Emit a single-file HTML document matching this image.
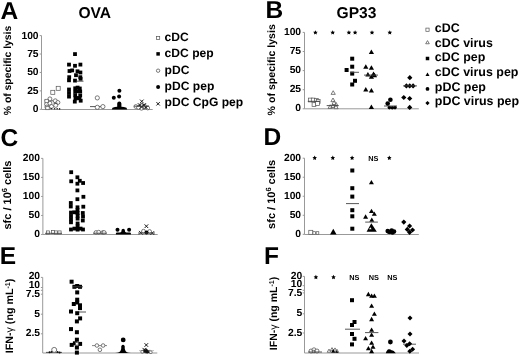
<!DOCTYPE html>
<html><head><meta charset="utf-8"><style>
html,body{margin:0;padding:0;background:#fff;}
svg{display:block;font-family:"Liberation Sans", sans-serif;will-change:transform;}
text{text-rendering:geometricPrecision;}
</style></head><body>
<svg width="520" height="356" viewBox="0 0 520 356">
<rect width="520" height="356" fill="#fff"/>
<text x="0.5" y="18.8" font-size="24.5" text-anchor="start" font-weight="bold" >A</text>
<text x="265.5" y="18.3" font-size="24.5" text-anchor="start" font-weight="bold" >B</text>
<text x="0.5" y="145.5" font-size="24.5" text-anchor="start" font-weight="bold" >C</text>
<text x="263.5" y="144.5" font-size="24.5" text-anchor="start" font-weight="bold" >D</text>
<text x="-0.3" y="264.2" font-size="24.5" text-anchor="start" font-weight="bold" >E</text>
<text x="264.0" y="264.3" font-size="24.5" text-anchor="start" font-weight="bold" >F</text>
<text x="94.8" y="18.1" font-size="15.6" text-anchor="middle" font-weight="bold" >OVA</text>
<text x="356.5" y="18.1" font-size="15.6" text-anchor="middle" font-weight="bold" >GP33</text>
<text transform="translate(11.3,70.5) rotate(-90)" font-size="10.4" text-anchor="middle" font-weight="bold">% of specific lysis</text>
<text transform="translate(274.6,69.8) rotate(-90)" font-size="10.6" text-anchor="middle" font-weight="bold">% of specific lysis</text>
<text transform="translate(11.3,195.0) rotate(-90)" font-size="11" text-anchor="middle" font-weight="bold">sfc / 10<tspan dy="-4" font-size="7.5">6</tspan><tspan dy="4"> cells</tspan></text>
<text transform="translate(274.8,194.4) rotate(-90)" font-size="11" text-anchor="middle" font-weight="bold">sfc / 10<tspan dy="-4" font-size="7.5">6</tspan><tspan dy="4"> cells</tspan></text>
<text transform="translate(13.0,316.0) rotate(-90)" font-size="10.7" text-anchor="middle" font-weight="bold">IFN-<tspan font-weight="normal">&#947;</tspan> (ng mL<tspan dy="-3.5" font-size="7">-1</tspan><tspan dy="3.5">)</tspan></text>
<text transform="translate(277.0,313.5) rotate(-90)" font-size="10.5" text-anchor="middle" font-weight="bold">IFN-<tspan font-weight="normal">&#947;</tspan> (ng mL<tspan dy="-3.5" font-size="7">-1</tspan><tspan dy="3.5">)</tspan></text>
<line x1="41.5" y1="35.6" x2="41.5" y2="109.5" stroke="#999" stroke-width="1"/>
<line x1="41.5" y1="109.5" x2="152.7" y2="109.5" stroke="#999" stroke-width="1"/>
<line x1="39.7" y1="35.6" x2="41.5" y2="35.6" stroke="#999" stroke-width="1"/>
<text x="38.6" y="38.6" font-size="10.3" text-anchor="end" font-weight="bold" >100</text>
<line x1="39.7" y1="54.03" x2="41.5" y2="54.03" stroke="#999" stroke-width="1"/>
<text x="38.6" y="57.03" font-size="10.3" text-anchor="end" font-weight="bold" >75</text>
<line x1="39.7" y1="72.46000000000001" x2="41.5" y2="72.46000000000001" stroke="#999" stroke-width="1"/>
<text x="38.6" y="75.46000000000001" font-size="10.3" text-anchor="end" font-weight="bold" >50</text>
<line x1="39.7" y1="90.89" x2="41.5" y2="90.89" stroke="#999" stroke-width="1"/>
<text x="38.6" y="93.89" font-size="10.3" text-anchor="end" font-weight="bold" >25</text>
<line x1="39.7" y1="109.32" x2="41.5" y2="109.32" stroke="#999" stroke-width="1"/>
<text x="38.6" y="112.32" font-size="10.3" text-anchor="end" font-weight="bold" >0</text>
<line x1="304.5" y1="32.4" x2="304.5" y2="108.8" stroke="#999" stroke-width="1"/>
<line x1="304.5" y1="108.8" x2="418.8" y2="108.8" stroke="#999" stroke-width="1"/>
<line x1="302.7" y1="32.4" x2="304.5" y2="32.4" stroke="#999" stroke-width="1"/>
<text x="301.1" y="34.9" font-size="10.3" text-anchor="end" font-weight="bold" >100</text>
<line x1="302.7" y1="51.5" x2="304.5" y2="51.5" stroke="#999" stroke-width="1"/>
<text x="301.1" y="54.0" font-size="10.3" text-anchor="end" font-weight="bold" >75</text>
<line x1="302.7" y1="70.6" x2="304.5" y2="70.6" stroke="#999" stroke-width="1"/>
<text x="301.1" y="73.1" font-size="10.3" text-anchor="end" font-weight="bold" >50</text>
<line x1="302.7" y1="89.7" x2="304.5" y2="89.7" stroke="#999" stroke-width="1"/>
<text x="301.1" y="92.2" font-size="10.3" text-anchor="end" font-weight="bold" >25</text>
<line x1="302.7" y1="108.80000000000001" x2="304.5" y2="108.80000000000001" stroke="#999" stroke-width="1"/>
<text x="301.1" y="111.30000000000001" font-size="10.3" text-anchor="end" font-weight="bold" >0</text>
<line x1="42.9" y1="158.4" x2="42.9" y2="234.5" stroke="#999" stroke-width="1"/>
<line x1="42.9" y1="234.5" x2="157.7" y2="234.5" stroke="#999" stroke-width="1"/>
<line x1="41.1" y1="158.4" x2="42.9" y2="158.4" stroke="#999" stroke-width="1"/>
<text x="40.0" y="161.20000000000002" font-size="10.3" text-anchor="end" font-weight="bold" >200</text>
<line x1="41.1" y1="177.42000000000002" x2="42.9" y2="177.42000000000002" stroke="#999" stroke-width="1"/>
<text x="40.0" y="180.22000000000003" font-size="10.3" text-anchor="end" font-weight="bold" >150</text>
<line x1="41.1" y1="196.44" x2="42.9" y2="196.44" stroke="#999" stroke-width="1"/>
<text x="40.0" y="199.24" font-size="10.3" text-anchor="end" font-weight="bold" >100</text>
<line x1="41.1" y1="215.46" x2="42.9" y2="215.46" stroke="#999" stroke-width="1"/>
<text x="40.0" y="218.26000000000002" font-size="10.3" text-anchor="end" font-weight="bold" >50</text>
<line x1="41.1" y1="234.48000000000002" x2="42.9" y2="234.48000000000002" stroke="#999" stroke-width="1"/>
<text x="40.0" y="237.28000000000003" font-size="10.3" text-anchor="end" font-weight="bold" >0</text>
<line x1="304.5" y1="158.2" x2="304.5" y2="234.5" stroke="#999" stroke-width="1"/>
<line x1="304.5" y1="234.5" x2="418.8" y2="234.5" stroke="#999" stroke-width="1"/>
<line x1="302.7" y1="158.2" x2="304.5" y2="158.2" stroke="#999" stroke-width="1"/>
<text x="301.1" y="160.7" font-size="10.3" text-anchor="end" font-weight="bold" >200</text>
<line x1="302.7" y1="177.23" x2="304.5" y2="177.23" stroke="#999" stroke-width="1"/>
<text x="301.1" y="179.73" font-size="10.3" text-anchor="end" font-weight="bold" >150</text>
<line x1="302.7" y1="196.26" x2="304.5" y2="196.26" stroke="#999" stroke-width="1"/>
<text x="301.1" y="198.76" font-size="10.3" text-anchor="end" font-weight="bold" >100</text>
<line x1="302.7" y1="215.29" x2="304.5" y2="215.29" stroke="#999" stroke-width="1"/>
<text x="301.1" y="217.79" font-size="10.3" text-anchor="end" font-weight="bold" >50</text>
<line x1="302.7" y1="234.32" x2="304.5" y2="234.32" stroke="#999" stroke-width="1"/>
<text x="301.1" y="236.82" font-size="10.3" text-anchor="end" font-weight="bold" >0</text>
<line x1="42.7" y1="277.4" x2="42.7" y2="353.0" stroke="#999" stroke-width="1"/>
<line x1="42.7" y1="353.0" x2="157.3" y2="353.0" stroke="#999" stroke-width="1"/>
<line x1="40.900000000000006" y1="277.4" x2="42.7" y2="277.4" stroke="#999" stroke-width="1"/>
<text x="40.1" y="278.8" font-size="10.3" text-anchor="end" font-weight="bold" >20</text>
<line x1="40.900000000000006" y1="287.5" x2="42.7" y2="287.5" stroke="#999" stroke-width="1"/>
<text x="40.1" y="287.8" font-size="10.3" text-anchor="end" font-weight="bold" >10</text>
<line x1="40.900000000000006" y1="290.3" x2="42.7" y2="290.3" stroke="#999" stroke-width="1"/>
<line x1="40.900000000000006" y1="294.2" x2="42.7" y2="294.2" stroke="#999" stroke-width="1"/>
<text x="40.1" y="296.7" font-size="10.3" text-anchor="end" font-weight="bold" >7.5</text>
<line x1="40.900000000000006" y1="314.2" x2="42.7" y2="314.2" stroke="#999" stroke-width="1"/>
<text x="40.1" y="316.7" font-size="10.3" text-anchor="end" font-weight="bold" >5</text>
<line x1="40.900000000000006" y1="333.8" x2="42.7" y2="333.8" stroke="#999" stroke-width="1"/>
<text x="40.1" y="336.2" font-size="10.3" text-anchor="end" font-weight="bold" >2.5</text>
<line x1="304.5" y1="276.4" x2="304.5" y2="353.0" stroke="#999" stroke-width="1"/>
<line x1="304.5" y1="353.0" x2="419.0" y2="353.0" stroke="#999" stroke-width="1"/>
<line x1="302.7" y1="276.4" x2="304.5" y2="276.4" stroke="#999" stroke-width="1"/>
<text x="302.3" y="278.7" font-size="10.3" text-anchor="end" font-weight="bold" >20</text>
<line x1="302.7" y1="285.7" x2="304.5" y2="285.7" stroke="#999" stroke-width="1"/>
<text x="302.3" y="286.7" font-size="10.3" text-anchor="end" font-weight="bold" >10</text>
<line x1="302.7" y1="290.3" x2="304.5" y2="290.3" stroke="#999" stroke-width="1"/>
<line x1="302.7" y1="292.9" x2="304.5" y2="292.9" stroke="#999" stroke-width="1"/>
<text x="302.3" y="295.9" font-size="10.3" text-anchor="end" font-weight="bold" >7.5</text>
<line x1="302.7" y1="313.8" x2="304.5" y2="313.8" stroke="#999" stroke-width="1"/>
<text x="302.3" y="316.2" font-size="10.3" text-anchor="end" font-weight="bold" >5</text>
<line x1="302.7" y1="333.0" x2="304.5" y2="333.0" stroke="#999" stroke-width="1"/>
<text x="302.3" y="335.5" font-size="10.3" text-anchor="end" font-weight="bold" >2.5</text>
<rect x="156.50" y="36.40" width="3.2" height="3.2" fill="#fff" stroke="#555" stroke-width="0.7"/>
<text x="164.6" y="40.8" font-size="12.1" text-anchor="start" font-weight="bold" >cDC</text>
<rect x="156.35" y="52.15" width="3.5" height="3.5" fill="#000"/>
<text x="164.6" y="57.2" font-size="12.1" text-anchor="start" font-weight="bold" >cDC pep</text>
<circle cx="158.1" cy="70.7" r="1.7" fill="#fff" stroke="#444" stroke-width="0.7"/>
<text x="164.6" y="73.5" font-size="12.1" text-anchor="start" font-weight="bold" >pDC</text>
<circle cx="158.1" cy="87.1" r="2.0" fill="#000"/>
<text x="164.6" y="89.8" font-size="12.1" text-anchor="start" font-weight="bold" >pDC pep</text>
<path d="M156.4 102.1L159.79999999999998 105.5M159.79999999999998 102.1L156.4 105.5" stroke="#000" stroke-width="0.9"/>
<text x="164.6" y="106.2" font-size="12.1" text-anchor="start" font-weight="bold" >pDC CpG pep</text>
<rect x="425.90" y="28.10" width="3.2" height="3.2" fill="#fff" stroke="#555" stroke-width="0.7"/>
<text x="434.8" y="32.4" font-size="12.45" text-anchor="start" font-weight="bold" >cDC</text>
<path d="M427.50 40.62L429.30 43.75L425.70 43.75Z" fill="#fff" stroke="#444" stroke-width="0.7"/>
<text x="434.8" y="46.9" font-size="12.45" text-anchor="start" font-weight="bold" >cDC virus</text>
<rect x="425.75" y="56.75" width="3.5" height="3.5" fill="#000"/>
<text x="434.8" y="61.4" font-size="12.45" text-anchor="start" font-weight="bold" >cDC pep</text>
<path d="M427.50 72.61L429.50 76.09L425.50 76.09Z" fill="#000"/>
<text x="434.8" y="76.0" font-size="12.45" text-anchor="start" font-weight="bold" >cDC virus pep</text>
<circle cx="427.5" cy="88.9" r="1.9" fill="#000"/>
<text x="434.8" y="90.6" font-size="12.45" text-anchor="start" font-weight="bold" >pDC pep</text>
<path d="M427.5 101.0L429.6 103.1L427.5 105.19999999999999L425.4 103.1Z" fill="#000"/>
<text x="434.8" y="105.2" font-size="12.45" text-anchor="start" font-weight="bold" >pDC virus pep</text>
<polygon points="315.40,30.20 316.11,31.63 317.68,31.86 316.54,32.97 316.81,34.54 315.40,33.80 313.99,34.54 314.26,32.97 313.12,31.86 314.69,31.63" fill="#000"/>
<polygon points="332.70,30.20 333.41,31.63 334.98,31.86 333.84,32.97 334.11,34.54 332.70,33.80 331.29,34.54 331.56,32.97 330.42,31.86 331.99,31.63" fill="#000"/>
<polygon points="348.90,30.20 349.61,31.63 351.18,31.86 350.04,32.97 350.31,34.54 348.90,33.80 347.49,34.54 347.76,32.97 346.62,31.86 348.19,31.63" fill="#000"/>
<polygon points="355.10,30.20 355.81,31.63 357.38,31.86 356.24,32.97 356.51,34.54 355.10,33.80 353.69,34.54 353.96,32.97 352.82,31.86 354.39,31.63" fill="#000"/>
<polygon points="372.00,30.20 372.71,31.63 374.28,31.86 373.14,32.97 373.41,34.54 372.00,33.80 370.59,34.54 370.86,32.97 369.72,31.86 371.29,31.63" fill="#000"/>
<polygon points="389.80,30.20 390.51,31.63 392.08,31.86 390.94,32.97 391.21,34.54 389.80,33.80 388.39,34.54 388.66,32.97 387.52,31.86 389.09,31.63" fill="#000"/>
<polygon points="314.70,155.60 315.41,157.03 316.98,157.26 315.84,158.37 316.11,159.94 314.70,159.20 313.29,159.94 313.56,158.37 312.42,157.26 313.99,157.03" fill="#000"/>
<polygon points="332.80,155.60 333.51,157.03 335.08,157.26 333.94,158.37 334.21,159.94 332.80,159.20 331.39,159.94 331.66,158.37 330.52,157.26 332.09,157.03" fill="#000"/>
<polygon points="352.10,155.60 352.81,157.03 354.38,157.26 353.24,158.37 353.51,159.94 352.10,159.20 350.69,159.94 350.96,158.37 349.82,157.26 351.39,157.03" fill="#000"/>
<polygon points="389.30,155.60 390.01,157.03 391.58,157.26 390.44,158.37 390.71,159.94 389.30,159.20 387.89,159.94 388.16,158.37 387.02,157.26 388.59,157.03" fill="#000"/>
<text x="373.4" y="160.7" font-size="7.3" text-anchor="middle" font-weight="bold" >NS</text>
<polygon points="315.90,274.80 316.61,276.23 318.18,276.46 317.04,277.57 317.31,279.14 315.90,278.40 314.49,279.14 314.76,277.57 313.62,276.46 315.19,276.23" fill="#000"/>
<polygon points="333.50,274.80 334.21,276.23 335.78,276.46 334.64,277.57 334.91,279.14 333.50,278.40 332.09,279.14 332.36,277.57 331.22,276.46 332.79,276.23" fill="#000"/>
<text x="354.4" y="279.8" font-size="7.3" text-anchor="middle" font-weight="bold" >NS</text>
<text x="373.7" y="279.8" font-size="7.3" text-anchor="middle" font-weight="bold" >NS</text>
<text x="392.2" y="279.8" font-size="7.3" text-anchor="middle" font-weight="bold" >NS</text>
<line x1="44.5" y1="100.8" x2="53" y2="100.8" stroke="#444" stroke-width="0.9"/>
<rect x="56.20" y="86.30" width="4.0" height="4.0" fill="#fff" stroke="#555" stroke-width="0.7"/>
<rect x="50.80" y="90.30" width="4.0" height="4.0" fill="#fff" stroke="#555" stroke-width="0.7"/>
<circle cx="49.9" cy="98.9" r="2.0" fill="#fff" stroke="#444" stroke-width="0.7"/>
<circle cx="55.3" cy="100.8" r="2.0" fill="#fff" stroke="#444" stroke-width="0.7"/>
<circle cx="57.9" cy="102.5" r="2.0" fill="#fff" stroke="#444" stroke-width="0.7"/>
<circle cx="46.6" cy="104.3" r="2.0" fill="#fff" stroke="#444" stroke-width="0.7"/>
<circle cx="49.9" cy="103.2" r="2.0" fill="#fff" stroke="#444" stroke-width="0.7"/>
<circle cx="55.7" cy="105.4" r="2.0" fill="#fff" stroke="#444" stroke-width="0.7"/>
<circle cx="46.9" cy="107.0" r="2.0" fill="#fff" stroke="#444" stroke-width="0.7"/>
<circle cx="51.5" cy="106.5" r="2.0" fill="#fff" stroke="#444" stroke-width="0.7"/>
<rect x="44.90" y="99.30" width="3.4" height="3.4" fill="#fff" stroke="#555" stroke-width="0.7"/>
<rect x="45.80" y="106.30" width="3.4" height="3.4" fill="#fff" stroke="#555" stroke-width="0.7"/>
<line x1="53.5" y1="103.2" x2="57.5" y2="103.2" stroke="#444" stroke-width="0.9"/>
<circle cx="51.3" cy="108.6" r="0.8" fill="#222"/>
<circle cx="54.6" cy="108.8" r="0.8" fill="#222"/>
<circle cx="57.2" cy="108.8" r="0.8" fill="#222"/>
<circle cx="59.6" cy="108.9" r="0.8" fill="#222"/>
<rect x="73.10" y="52.20" width="3.8" height="3.8" fill="#000"/>
<rect x="67.10" y="62.70" width="3.8" height="3.8" fill="#000"/>
<rect x="73.10" y="63.90" width="3.8" height="3.8" fill="#000"/>
<rect x="78.50" y="62.70" width="3.8" height="3.8" fill="#000"/>
<rect x="67.60" y="69.10" width="3.8" height="3.8" fill="#000"/>
<rect x="70.30" y="68.50" width="3.8" height="3.8" fill="#000"/>
<rect x="75.60" y="69.40" width="3.8" height="3.8" fill="#000"/>
<rect x="78.50" y="70.60" width="3.8" height="3.8" fill="#000"/>
<rect x="74.10" y="73.30" width="3.8" height="3.8" fill="#000"/>
<rect x="78.40" y="75.30" width="3.8" height="3.8" fill="#000"/>
<rect x="67.30" y="75.30" width="3.8" height="3.8" fill="#000"/>
<rect x="67.10" y="78.40" width="3.8" height="3.8" fill="#000"/>
<rect x="73.10" y="78.70" width="3.8" height="3.8" fill="#000"/>
<rect x="78.70" y="76.90" width="3.8" height="3.8" fill="#000"/>
<rect x="67.10" y="87.60" width="3.8" height="3.8" fill="#000"/>
<rect x="67.10" y="91.10" width="3.8" height="3.8" fill="#000"/>
<rect x="67.10" y="94.70" width="3.8" height="3.8" fill="#000"/>
<rect x="73.30" y="86.40" width="3.8" height="3.8" fill="#000"/>
<rect x="77.90" y="86.60" width="3.8" height="3.8" fill="#000"/>
<rect x="73.30" y="89.90" width="3.8" height="3.8" fill="#000"/>
<rect x="78.30" y="89.60" width="3.8" height="3.8" fill="#000"/>
<rect x="73.30" y="93.40" width="3.8" height="3.8" fill="#000"/>
<rect x="78.30" y="93.60" width="3.8" height="3.8" fill="#000"/>
<rect x="73.60" y="96.60" width="3.8" height="3.8" fill="#000"/>
<rect x="77.60" y="96.40" width="3.8" height="3.8" fill="#000"/>
<rect x="72.90" y="99.70" width="3.8" height="3.8" fill="#000"/>
<rect x="78.80" y="98.80" width="3.8" height="3.8" fill="#000"/>
<rect x="75.70" y="85.70" width="3.8" height="3.8" fill="#000"/>
<rect x="75.70" y="89.30" width="3.8" height="3.8" fill="#000"/>
<rect x="75.90" y="96.10" width="3.8" height="3.8" fill="#000"/>
<line x1="76.3" y1="81.2" x2="83.5" y2="81.2" stroke="#444" stroke-width="0.9"/>
<line x1="90" y1="106.6" x2="104" y2="106.6" stroke="#444" stroke-width="0.9"/>
<circle cx="97.3" cy="97.9" r="2.1" fill="#fff" stroke="#444" stroke-width="0.7"/>
<circle cx="97.3" cy="107.3" r="2.1" fill="#fff" stroke="#444" stroke-width="0.7"/>
<circle cx="102.9" cy="106.6" r="2.1" fill="#fff" stroke="#444" stroke-width="0.7"/>
<circle cx="119.4" cy="90.7" r="2.0" fill="#000"/>
<circle cx="113.8" cy="97.7" r="2.0" fill="#000"/>
<circle cx="119.1" cy="96.6" r="2.0" fill="#000"/>
<path d="M111.8 109.6 L112.5 107.8 Q115 106.8 117.2 106.8 L117.2 103.5 Q117.3 101.6 119.3 101.6 Q121.3 101.6 121.4 103.5 L121.4 106.8 Q124 106.8 126.5 107.8 L127.2 109.6 Z" fill="#000"/>
<circle cx="135.8" cy="106.5" r="1.9" fill="#fff" stroke="#444" stroke-width="0.7"/>
<circle cx="141.5" cy="105.8" r="1.9" fill="#fff" stroke="#444" stroke-width="0.7"/>
<circle cx="141.5" cy="108.3" r="1.9" fill="#fff" stroke="#444" stroke-width="0.7"/>
<circle cx="144.6" cy="106.2" r="1.9" fill="#fff" stroke="#444" stroke-width="0.7"/>
<circle cx="147.7" cy="108" r="1.9" fill="#fff" stroke="#444" stroke-width="0.7"/>
<circle cx="138.5" cy="107.5" r="1.9" fill="#fff" stroke="#444" stroke-width="0.7"/>
<path d="M140.0 99.60000000000001L143.60000000000002 103.2M143.60000000000002 99.60000000000001L140.0 103.2" stroke="#000" stroke-width="0.9"/>
<path d="M137.79999999999998 103.2L141.4 106.8M141.4 103.2L137.79999999999998 106.8" stroke="#000" stroke-width="0.9"/>
<path d="M142.39999999999998 103.2L146.0 106.8M146.0 103.2L142.39999999999998 106.8" stroke="#000" stroke-width="0.9"/>
<path d="M139.7 105.2L143.3 108.8M143.3 105.2L139.7 108.8" stroke="#000" stroke-width="0.9"/>
<path d="M144.2 105.7L147.8 109.3M147.8 105.7L144.2 109.3" stroke="#000" stroke-width="0.9"/>
<line x1="134" y1="106.2" x2="149" y2="106.2" stroke="#444" stroke-width="0.9"/>
<rect x="308.60" y="98.10" width="3.8" height="3.8" fill="#fff" stroke="#555" stroke-width="0.7"/>
<rect x="311.30" y="98.10" width="3.8" height="3.8" fill="#fff" stroke="#555" stroke-width="0.7"/>
<rect x="314.40" y="98.50" width="3.8" height="3.8" fill="#fff" stroke="#555" stroke-width="0.7"/>
<rect x="316.30" y="99.60" width="3.8" height="3.8" fill="#fff" stroke="#555" stroke-width="0.7"/>
<rect x="312.10" y="102.70" width="3.8" height="3.8" fill="#fff" stroke="#555" stroke-width="0.7"/>
<rect x="315.60" y="101.60" width="3.8" height="3.8" fill="#fff" stroke="#555" stroke-width="0.7"/>
<line x1="307.8" y1="101.3" x2="320" y2="101.3" stroke="#444" stroke-width="0.9"/>
<path d="M333.20 90.71L335.30 94.36L331.10 94.36Z" fill="#fff" stroke="#444" stroke-width="0.7"/>
<path d="M333.00 98.01L335.10 101.66L330.90 101.66Z" fill="#fff" stroke="#444" stroke-width="0.7"/>
<path d="M330.20 104.71L332.30 108.36L328.10 108.36Z" fill="#fff" stroke="#444" stroke-width="0.7"/>
<path d="M333.00 103.81L335.10 107.46L330.90 107.46Z" fill="#fff" stroke="#444" stroke-width="0.7"/>
<path d="M336.00 102.31L338.10 105.96L333.90 105.96Z" fill="#fff" stroke="#444" stroke-width="0.7"/>
<path d="M334.00 100.81L336.10 104.46L331.90 104.46Z" fill="#fff" stroke="#444" stroke-width="0.7"/>
<path d="M336.00 105.01L338.10 108.66L333.90 108.66Z" fill="#fff" stroke="#444" stroke-width="0.7"/>
<line x1="326.7" y1="105.6" x2="338.6" y2="105.6" stroke="#444" stroke-width="0.9"/>
<rect x="350.20" y="56.70" width="4.0" height="4.0" fill="#000"/>
<rect x="350.20" y="64.70" width="4.0" height="4.0" fill="#000"/>
<rect x="344.60" y="68.00" width="4.0" height="4.0" fill="#000"/>
<rect x="350.20" y="71.60" width="4.0" height="4.0" fill="#000"/>
<rect x="353.00" y="78.80" width="4.0" height="4.0" fill="#000"/>
<rect x="350.20" y="82.50" width="4.0" height="4.0" fill="#000"/>
<line x1="350" y1="72.3" x2="359" y2="72.3" stroke="#444" stroke-width="0.9"/>
<path d="M371.40 49.49L374.00 54.01L368.80 54.01Z" fill="#000"/>
<path d="M365.80 64.29L368.40 68.81L363.20 68.81Z" fill="#000"/>
<path d="M371.40 65.29L374.00 69.81L368.80 69.81Z" fill="#000"/>
<path d="M367.90 71.89L370.50 76.41L365.30 76.41Z" fill="#000"/>
<path d="M373.50 71.49L376.10 76.01L370.90 76.01Z" fill="#000"/>
<path d="M371.40 74.29L374.00 78.81L368.80 78.81Z" fill="#000"/>
<path d="M374.50 72.79L377.10 77.31L371.90 77.31Z" fill="#000"/>
<path d="M365.80 86.89L368.40 91.41L363.20 91.41Z" fill="#000"/>
<path d="M371.40 87.89L374.00 92.41L368.80 92.41Z" fill="#000"/>
<path d="M371.40 104.59L374.00 109.11L368.80 109.11Z" fill="#000"/>
<line x1="364" y1="75.1" x2="378" y2="75.1" stroke="#444" stroke-width="0.9"/>
<circle cx="390.4" cy="99.8" r="2.3" fill="#000"/>
<circle cx="387.7" cy="103.6" r="2.3" fill="#000"/>
<circle cx="389.4" cy="107.6" r="1.8" fill="#000"/>
<circle cx="392.3" cy="107.8" r="1.8" fill="#000"/>
<circle cx="395.0" cy="107.6" r="1.8" fill="#000"/>
<line x1="384" y1="106.0" x2="397" y2="106.0" stroke="#444" stroke-width="0.9"/>
<path d="M409.8 75.10000000000001L412.40000000000003 77.7L409.8 80.3L407.2 77.7Z" fill="#000"/>
<path d="M406.4 83.30000000000001L409.0 85.9L406.4 88.5L403.79999999999995 85.9Z" fill="#000"/>
<path d="M409.7 83.30000000000001L412.3 85.9L409.7 88.5L407.09999999999997 85.9Z" fill="#000"/>
<path d="M413.1 83.30000000000001L415.70000000000005 85.9L413.1 88.5L410.5 85.9Z" fill="#000"/>
<path d="M403.8 94.9L406.40000000000003 97.5L403.8 100.1L401.2 97.5Z" fill="#000"/>
<path d="M409.7 95.9L412.3 98.5L409.7 101.1L407.09999999999997 98.5Z" fill="#000"/>
<path d="M409.7 104.80000000000001L412.3 107.4L409.7 110.0L407.09999999999997 107.4Z" fill="#000"/>
<line x1="403" y1="85.9" x2="417" y2="85.9" stroke="#444" stroke-width="0.9"/>
<rect x="46.40" y="230.90" width="3.2" height="3.2" fill="#fff" stroke="#555" stroke-width="0.7"/>
<rect x="51.40" y="230.40" width="3.2" height="3.2" fill="#fff" stroke="#555" stroke-width="0.7"/>
<rect x="54.40" y="230.90" width="3.2" height="3.2" fill="#fff" stroke="#555" stroke-width="0.7"/>
<rect x="57.90" y="230.90" width="3.2" height="3.2" fill="#fff" stroke="#555" stroke-width="0.7"/>
<line x1="45" y1="233.3" x2="62" y2="233.3" stroke="#444" stroke-width="0.9"/>
<rect x="69.30" y="170.30" width="3.8" height="3.8" fill="#000"/>
<rect x="75.50" y="175.40" width="3.8" height="3.8" fill="#000"/>
<rect x="69.30" y="179.40" width="3.8" height="3.8" fill="#000"/>
<rect x="77.90" y="178.90" width="3.8" height="3.8" fill="#000"/>
<rect x="75.50" y="181.80" width="3.8" height="3.8" fill="#000"/>
<rect x="81.20" y="181.10" width="3.8" height="3.8" fill="#000"/>
<rect x="75.50" y="188.50" width="3.8" height="3.8" fill="#000"/>
<rect x="81.50" y="194.90" width="3.8" height="3.8" fill="#000"/>
<rect x="75.50" y="197.30" width="3.8" height="3.8" fill="#000"/>
<rect x="68.90" y="201.10" width="3.8" height="3.8" fill="#000"/>
<rect x="68.90" y="204.60" width="3.8" height="3.8" fill="#000"/>
<rect x="75.60" y="205.40" width="3.8" height="3.8" fill="#000"/>
<rect x="81.40" y="204.80" width="3.8" height="3.8" fill="#000"/>
<rect x="75.60" y="208.20" width="3.8" height="3.8" fill="#000"/>
<rect x="69.10" y="210.70" width="3.8" height="3.8" fill="#000"/>
<rect x="69.10" y="214.10" width="3.8" height="3.8" fill="#000"/>
<rect x="69.10" y="217.30" width="3.8" height="3.8" fill="#000"/>
<rect x="69.10" y="220.40" width="3.8" height="3.8" fill="#000"/>
<rect x="69.10" y="227.60" width="3.8" height="3.8" fill="#000"/>
<rect x="72.40" y="210.40" width="3.8" height="3.8" fill="#000"/>
<rect x="75.70" y="211.10" width="3.8" height="3.8" fill="#000"/>
<rect x="75.70" y="213.90" width="3.8" height="3.8" fill="#000"/>
<rect x="75.70" y="216.70" width="3.8" height="3.8" fill="#000"/>
<rect x="75.70" y="221.60" width="3.8" height="3.8" fill="#000"/>
<rect x="75.70" y="224.40" width="3.8" height="3.8" fill="#000"/>
<rect x="75.70" y="227.70" width="3.8" height="3.8" fill="#000"/>
<rect x="80.90" y="211.10" width="3.8" height="3.8" fill="#000"/>
<rect x="81.10" y="214.60" width="3.8" height="3.8" fill="#000"/>
<rect x="80.90" y="218.60" width="3.8" height="3.8" fill="#000"/>
<rect x="81.10" y="227.60" width="3.8" height="3.8" fill="#000"/>
<rect x="72.50" y="226.70" width="3.8" height="3.8" fill="#000"/>
<rect x="78.70" y="226.70" width="3.8" height="3.8" fill="#000"/>
<rect x="73.6" y="215.4" width="1.6" height="1.6" fill="#fff"/>
<circle cx="96" cy="232.5" r="1.9" fill="#fff" stroke="#444" stroke-width="0.7"/>
<circle cx="98.7" cy="232.2" r="1.9" fill="#fff" stroke="#444" stroke-width="0.7"/>
<circle cx="102.8" cy="232.5" r="1.9" fill="#fff" stroke="#444" stroke-width="0.7"/>
<circle cx="104.1" cy="232.5" r="1.9" fill="#fff" stroke="#444" stroke-width="0.7"/>
<line x1="93" y1="233.2" x2="107" y2="233.2" stroke="#444" stroke-width="0.9"/>
<circle cx="117.5" cy="229.8" r="2.0" fill="#000"/>
<circle cx="129.1" cy="229.8" r="2.0" fill="#000"/>
<path d="M115.9 234.6 L115.9 233.2 Q116 232.4 117 232.4 L120 232.4 Q121.5 232.2 121.5 231 L121.5 230.3 Q121.6 228.8 123.2 228.8 Q124.9 228.8 124.9 230.3 L124.9 231 Q124.9 232.2 126.4 232.4 L129.9 232.4 Q130.9 232.4 130.9 233.2 L130.9 234.6 Z" fill="#000"/>
<path d="M144.6 224.39999999999998L148.20000000000002 228.0M148.20000000000002 224.39999999999998L144.6 228.0" stroke="#000" stroke-width="0.9"/>
<path d="M139.0 230.89999999999998L142.60000000000002 234.5M142.60000000000002 230.89999999999998L139.0 234.5" stroke="#000" stroke-width="0.9"/>
<path d="M150.5 231.2L154.10000000000002 234.8M154.10000000000002 231.2L150.5 234.8" stroke="#000" stroke-width="0.9"/>
<circle cx="143.5" cy="231.2" r="1.9" fill="#fff" stroke="#444" stroke-width="0.7"/>
<circle cx="149.6" cy="231.5" r="1.9" fill="#fff" stroke="#444" stroke-width="0.7"/>
<circle cx="146.5" cy="232.4" r="2.0" fill="#000"/>
<line x1="138" y1="233.0" x2="155" y2="233.0" stroke="#444" stroke-width="0.9"/>
<rect x="308.80" y="230.30" width="4.0" height="4.0" fill="#fff" stroke="#555" stroke-width="0.7"/>
<rect x="312.90" y="231.70" width="2.6" height="2.6" fill="#fff" stroke="#555" stroke-width="0.7"/>
<rect x="316.20" y="231.70" width="2.6" height="2.6" fill="#fff" stroke="#555" stroke-width="0.7"/>
<path d="M333.30 228.81L336.55 234.46L330.05 234.46Z" fill="#000"/>
<rect x="350.30" y="168.50" width="4.0" height="4.0" fill="#000"/>
<rect x="350.30" y="186.20" width="4.0" height="4.0" fill="#000"/>
<rect x="350.30" y="194.60" width="4.0" height="4.0" fill="#000"/>
<rect x="350.30" y="208.20" width="4.0" height="4.0" fill="#000"/>
<rect x="350.30" y="214.30" width="4.0" height="4.0" fill="#000"/>
<rect x="350.30" y="226.70" width="4.0" height="4.0" fill="#000"/>
<line x1="346" y1="203.6" x2="359" y2="203.6" stroke="#444" stroke-width="0.9"/>
<path d="M371.40 179.99L373.90 184.34L368.90 184.34Z" fill="#000"/>
<path d="M371.50 208.69L374.00 213.04L369.00 213.04Z" fill="#000"/>
<path d="M374.30 211.49L376.80 215.84L371.80 215.84Z" fill="#000"/>
<path d="M365.60 214.29L368.10 218.64L363.10 218.64Z" fill="#000"/>
<path d="M371.80 217.39L374.30 221.74L369.30 221.74Z" fill="#000"/>
<path d="M371.3 223.2 L376.8 231.8 L366.6 231.8 Z" fill="#000"/>
<path d="M370.3 227.2 L371.6 229.2 L369.0 229.2 Z" fill="#fff"/>
<line x1="365.2" y1="222.1" x2="377.9" y2="222.1" stroke="#444" stroke-width="0.9"/>
<circle cx="387.7" cy="231.1" r="2.3" fill="#000"/>
<circle cx="391.7" cy="230.6" r="2.3" fill="#000"/>
<circle cx="394" cy="231.5" r="2.3" fill="#000"/>
<circle cx="389.5" cy="232" r="2.3" fill="#000"/>
<circle cx="392.5" cy="232.4" r="2.3" fill="#000"/>
<path d="M403.8 219.5L406.40000000000003 222.1L403.8 224.7L401.2 222.1Z" fill="#000"/>
<path d="M409.6 223.4L412.20000000000005 226L409.6 228.6L407.0 226Z" fill="#000"/>
<path d="M407.3 226.8L409.90000000000003 229.4L407.3 232.0L404.7 229.4Z" fill="#000"/>
<path d="M412.5 227.4L415.1 230L412.5 232.6L409.9 230Z" fill="#000"/>
<path d="M409.6 229.70000000000002L412.20000000000005 232.3L409.6 234.9L407.0 232.3Z" fill="#000"/>
<line x1="46" y1="352.4" x2="62" y2="352.4" stroke="#444" stroke-width="0.9"/>
<circle cx="54.2" cy="349.9" r="2.5" fill="#fff" stroke="#666" stroke-width="0.9"/>
<circle cx="49.6" cy="352.2" r="1.0" fill="#111"/>
<circle cx="51.6" cy="351.8" r="0.9" fill="#111"/>
<circle cx="57.6" cy="352.0" r="0.9" fill="#111"/>
<circle cx="59.6" cy="352.4" r="1.0" fill="#111"/>
<rect x="69.60" y="279.70" width="4.0" height="4.0" fill="#000"/>
<rect x="72.40" y="284.80" width="4.0" height="4.0" fill="#000"/>
<rect x="75.20" y="284.00" width="4.0" height="4.0" fill="#000"/>
<rect x="78.00" y="284.80" width="4.0" height="4.0" fill="#000"/>
<rect x="75.20" y="290.40" width="4.0" height="4.0" fill="#000"/>
<rect x="75.20" y="297.70" width="4.0" height="4.0" fill="#000"/>
<rect x="71.80" y="302.00" width="4.0" height="4.0" fill="#000"/>
<rect x="75.20" y="300.50" width="4.0" height="4.0" fill="#000"/>
<rect x="78.00" y="303.30" width="4.0" height="4.0" fill="#000"/>
<rect x="78.00" y="306.10" width="4.0" height="4.0" fill="#000"/>
<rect x="69.00" y="309.50" width="4.0" height="4.0" fill="#000"/>
<rect x="75.20" y="311.20" width="4.0" height="4.0" fill="#000"/>
<rect x="78.10" y="316.40" width="4.0" height="4.0" fill="#000"/>
<rect x="74.90" y="319.40" width="4.0" height="4.0" fill="#000"/>
<rect x="69.00" y="327.10" width="4.0" height="4.0" fill="#000"/>
<rect x="74.90" y="330.20" width="4.0" height="4.0" fill="#000"/>
<rect x="74.90" y="337.70" width="4.0" height="4.0" fill="#000"/>
<rect x="69.70" y="342.90" width="4.0" height="4.0" fill="#000"/>
<rect x="72.90" y="341.30" width="4.0" height="4.0" fill="#000"/>
<rect x="78.10" y="341.90" width="4.0" height="4.0" fill="#000"/>
<rect x="74.90" y="345.50" width="4.0" height="4.0" fill="#000"/>
<rect x="74.90" y="350.60" width="4.0" height="4.0" fill="#000"/>
<rect x="75.60" y="342.50" width="2.6" height="2.6" fill="#fff" stroke="#555" stroke-width="0.7"/>
<line x1="73" y1="286.8" x2="83" y2="286.8" stroke="#444" stroke-width="0.9"/>
<line x1="79" y1="312" x2="86" y2="312" stroke="#444" stroke-width="0.9"/>
<line x1="92" y1="345.6" x2="107" y2="345.6" stroke="#777" stroke-width="0.9"/>
<circle cx="96.9" cy="345.5" r="1.8" fill="#fff" stroke="#444" stroke-width="0.7"/>
<circle cx="103.1" cy="345.5" r="1.8" fill="#fff" stroke="#444" stroke-width="0.7"/>
<circle cx="99.9" cy="349.8" r="1.8" fill="#fff" stroke="#444" stroke-width="0.7"/>
<circle cx="123.2" cy="339.9" r="2.4" fill="#000"/>
<path d="M115 353 C118.5 353 120.5 352 121.2 349 L121.3 346 Q123 343.5 124.7 346 L124.8 349 C125.5 352 127.5 353 131 353 Z" fill="#000"/>
<line x1="139" y1="350.6" x2="154" y2="350.6" stroke="#bbb" stroke-width="0.9"/>
<path d="M144.5 343.2L148.10000000000002 346.8M148.10000000000002 343.2L144.5 346.8" stroke="#000" stroke-width="0.9"/>
<path d="M142.5 347.90000000000003L145.89999999999998 351.3M145.89999999999998 347.90000000000003L142.5 351.3" stroke="#000" stroke-width="0.9"/>
<path d="M146.10000000000002 349.90000000000003L149.5 353.3M149.5 349.90000000000003L146.10000000000002 353.3" stroke="#000" stroke-width="0.9"/>
<path d="M143.5 349.7L146.89999999999998 353.09999999999997M146.89999999999998 349.7L143.5 353.09999999999997" stroke="#000" stroke-width="0.9"/>
<path d="M142.5 351.8 L146.5 348.2 L149.8 352.8 L147.2 353.4 Z" fill="#111"/>
<circle cx="142.2" cy="351.8" r="1.4" fill="#fff" stroke="#444" stroke-width="0.7"/>
<circle cx="150.8" cy="352.2" r="1.4" fill="#fff" stroke="#444" stroke-width="0.7"/>
<circle cx="311" cy="351" r="2.0" fill="#fff" stroke="#444" stroke-width="0.7"/>
<circle cx="314" cy="349.8" r="2.0" fill="#fff" stroke="#444" stroke-width="0.7"/>
<circle cx="317" cy="351" r="2.0" fill="#fff" stroke="#444" stroke-width="0.7"/>
<rect x="312.25" y="350.25" width="2.5" height="2.5" fill="#fff" stroke="#555" stroke-width="0.7"/>
<line x1="308" y1="352.0" x2="322" y2="352.0" stroke="#444" stroke-width="0.9"/>
<path d="M329.00 349.12L330.80 352.25L327.20 352.25Z" fill="#fff" stroke="#444" stroke-width="0.7"/>
<path d="M332.00 347.62L333.80 350.75L330.20 350.75Z" fill="#fff" stroke="#444" stroke-width="0.7"/>
<path d="M335.00 347.92L336.80 351.05L333.20 351.05Z" fill="#fff" stroke="#444" stroke-width="0.7"/>
<path d="M337.00 349.32L338.80 352.45L335.20 352.45Z" fill="#fff" stroke="#444" stroke-width="0.7"/>
<path d="M333.20 349.11L335.30 352.76L331.10 352.76Z" fill="#000"/>
<path d="M336.80 350.23L338.30 352.84L335.30 352.84Z" fill="#000"/>
<rect x="350.00" y="298.20" width="4.0" height="4.0" fill="#000"/>
<rect x="352.50" y="320.00" width="4.0" height="4.0" fill="#000"/>
<rect x="350.00" y="323.00" width="4.0" height="4.0" fill="#000"/>
<rect x="350.00" y="332.00" width="4.0" height="4.0" fill="#000"/>
<rect x="352.50" y="336.80" width="4.0" height="4.0" fill="#000"/>
<rect x="350.00" y="342.40" width="4.0" height="4.0" fill="#000"/>
<line x1="345" y1="329.2" x2="360" y2="329.2" stroke="#444" stroke-width="0.9"/>
<path d="M368.40 291.79L370.90 296.14L365.90 296.14Z" fill="#000"/>
<path d="M371.60 293.39L374.10 297.74L369.10 297.74Z" fill="#000"/>
<path d="M374.40 293.39L376.90 297.74L371.90 297.74Z" fill="#000"/>
<path d="M371.60 303.39L374.10 307.74L369.10 307.74Z" fill="#000"/>
<path d="M374.40 311.39L376.90 315.74L371.90 315.74Z" fill="#000"/>
<path d="M371.60 316.79L374.10 321.14L369.10 321.14Z" fill="#000"/>
<path d="M371.60 327.39L374.10 331.74L369.10 331.74Z" fill="#000"/>
<path d="M371.60 332.39L374.10 336.74L369.10 336.74Z" fill="#000"/>
<path d="M365.60 335.99L368.10 340.34L363.10 340.34Z" fill="#000"/>
<path d="M371.60 340.39L374.10 344.74L369.10 344.74Z" fill="#000"/>
<path d="M368.40 345.99L370.90 350.34L365.90 350.34Z" fill="#000"/>
<path d="M373.00 344.39L375.50 348.74L370.50 348.74Z" fill="#000"/>
<path d="M371.60 348.79L374.10 353.14L369.10 353.14Z" fill="#000"/>
<line x1="365" y1="332.6" x2="378.4" y2="332.6" stroke="#444" stroke-width="0.9"/>
<circle cx="390.4" cy="342" r="2.4" fill="#000"/>
<path d="M385.8 353.2 Q386.8 349.6 388.8 349.3 Q390.6 349.2 391.5 350.2 Q393.6 349.8 395.8 353.2 Z" fill="#000"/>
<line x1="403" y1="344.2" x2="416" y2="344.2" stroke="#444" stroke-width="0.9"/>
<path d="M410 315.5L412.5 318L410 320.5L407.5 318Z" fill="#000"/>
<path d="M410 331.5L412.5 334L410 336.5L407.5 334Z" fill="#000"/>
<path d="M404 338.5L406.5 341L404 343.5L401.5 341Z" fill="#000"/>
<path d="M406.8 343.1L409.3 345.6L406.8 348.1L404.3 345.6Z" fill="#000"/>
<path d="M409.6 341.3L412.1 343.8L409.6 346.3L407.1 343.8Z" fill="#000"/>
<path d="M409.8 348.7L412.3 351.2L409.8 353.7L407.3 351.2Z" fill="#000"/>
<path d="M412.6 346.7L415.1 349.2L412.6 351.7L410.1 349.2Z" fill="#000"/>
</svg></body></html>
